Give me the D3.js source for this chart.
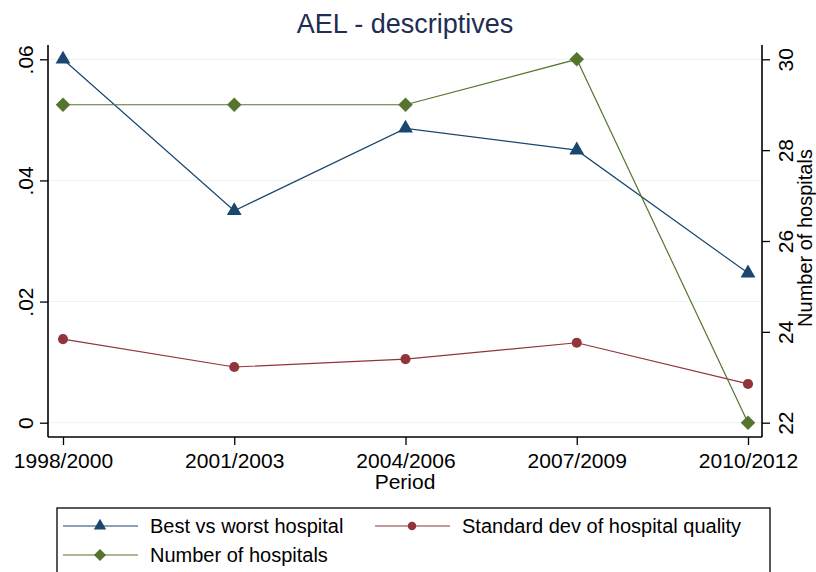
<!DOCTYPE html>
<html>
<head>
<meta charset="utf-8">
<script src="https://cdn.jsdelivr.net/npm/d3@7"></script>
<style>
  body { margin: 0; background: #fff; }
  svg { font-family: "Liberation Sans", Arial, sans-serif; }
</style>
</head>
<body>
<svg width="816" height="572"></svg>
<script>
// data
var periods = ["1998/2000", "2001/2003", "2004/2006", "2007/2009", "2010/2012"]
var bestWorst = [0.0600, 0.0350, 0.0486, 0.0450, 0.0247]
var stdDev = [0.0138, 0.0092, 0.0105, 0.0132, 0.0064]
var nHospitals = [29, 29, 29, 30, 22]
var leftTicks = [0, 0.02, 0.04, 0.06]
var leftLabels = ["0", ".02", ".04", ".06"]
var rightTicks = [22, 24, 26, 28, 30]

var svg = d3.select("svg")

var navy = "#1a476f", maroon = "#90353b", green = "#55752f"

// plot area
var x = d3.scaleLinear().domain([0, 4]).range([63, 748])
var y = d3.scaleLinear().domain([0, 0.06]).range([422.7, 59.3])
var y2 = d3.scaleLinear().domain([22, 30]).range([422.7, 59.3])
var axisLeftX = 48, axisRightX = 762, axisBottomY = 437, axisTopY = 45

// gridlines
svg.append("g").selectAll("line")
  .data(leftTicks)
  .enter().append("line")
    .attr("x1", axisLeftX).attr("x2", axisRightX)
    .attr("y1", function(d) { return y(d) }).attr("y2", function(d) { return y(d) })
    .style("stroke", "#eaf2f3").style("stroke-width", 1)

// left axis
var gl = svg.append("g").attr("transform", "translate(" + axisLeftX + ",0)")
  .call(d3.axisLeft(y).tickValues(leftTicks).tickSize(8))
gl.select(".domain").attr("d", "M0," + axisTopY + "V" + axisBottomY)
gl.selectAll("text").remove()
gl.selectAll(".tick").append("text")
  .attr("transform", "translate(-15,0) rotate(-90)")
  .attr("text-anchor", "middle")
  .attr("fill", "#000")
  .style("font-size", "21px")
  .text(function(d, i) { return leftLabels[i] })

// right axis
var gr = svg.append("g").attr("transform", "translate(" + axisRightX + ",0)")
  .call(d3.axisRight(y2).tickValues(rightTicks).tickSize(8))
gr.select(".domain").attr("d", "M0," + axisTopY + "V" + axisBottomY)
gr.selectAll("text").remove()
gr.selectAll(".tick").append("text")
  .attr("transform", "translate(31,0) rotate(-90)")
  .attr("text-anchor", "middle")
  .attr("fill", "#000")
  .style("font-size", "21px")
  .text(function(d) { return d })

// bottom axis
var gb = svg.append("g").attr("transform", "translate(0," + axisBottomY + ")")
  .call(d3.axisBottom(x).tickValues(d3.range(periods.length)).tickSize(8)
    .tickFormat(function(d) { return periods[d] }))
gb.select(".domain").attr("d", "M" + axisLeftX + ",0H" + axisRightX)
gb.selectAll("text").attr("y", 31).attr("dy", 0).attr("fill", "#000").style("font-size", "21px")

svg.selectAll(".domain").style("stroke", "#000").style("stroke-width", 1.6)
svg.selectAll(".tick line").style("stroke", "#000").style("stroke-width", 1.3)

// axis titles
svg.append("text")
  .attr("x", 405).attr("y", 489)
  .attr("text-anchor", "middle")
  .style("font-size", "21px")
  .text("Period")

svg.append("text")
  .attr("transform", "translate(812,238) rotate(-90)")
  .attr("text-anchor", "middle")
  .style("font-size", "20px")
  .text("Number of hospitals")

svg.append("text")
  .attr("x", 405).attr("y", 33)
  .attr("text-anchor", "middle")
  .style("font-size", "27px")
  .style("fill", "#1e2d53")
  .text("AEL - descriptives")

// series (diamond = square turned 45 degrees)
var series = [
  {name: "Best vs worst hospital", values: bestWorst, scale: y, color: navy, symbol: d3.symbolTriangle, size: 95, rot: 0},
  {name: "Standard dev of hospital quality", values: stdDev, scale: y, color: maroon, symbol: d3.symbolCircle, size: 80, rot: 0},
  {name: "Number of hospitals", values: nHospitals, scale: y2, color: green, symbol: d3.symbolSquare, size: 105, rot: 45}
]

var line = d3.line()

series.forEach(function(s) {
  var pts = s.values.map(function(v, i) { return [x(i), s.scale(v)] })
  svg.append("path")
    .attr("d", line(pts))
    .style("fill", "none")
    .style("stroke", s.color)
    .style("stroke-width", 1.2)
  svg.append("g").selectAll("path")
    .data(pts)
    .enter().append("path")
      .attr("transform", function(d) { return "translate(" + d[0] + "," + d[1] + ") rotate(" + s.rot + ")" })
      .attr("d", d3.symbol().type(s.symbol).size(s.size))
      .style("fill", s.color)
})

// legend
var legend = svg.append("g")
legend.append("rect")
  .attr("x", 57).attr("y", 508)
  .attr("width", 713).attr("height", 80)
  .style("fill", "#fff").style("stroke", "#000").style("stroke-width", 1.3)

var legendPos = [[63, 526], [375, 526], [63, 555]]
series.forEach(function(s, i) {
  var p = legendPos[i]
  var g = legend.append("g").attr("transform", "translate(" + p[0] + "," + p[1] + ")")
  g.append("line").attr("x1", 0).attr("x2", 75)
    .style("stroke", s.color).style("stroke-width", 1.2)
  g.append("path")
    .attr("transform", "translate(37,0) rotate(" + s.rot + ")")
    .attr("d", d3.symbol().type(s.symbol).size(s.size * 0.7))
    .style("fill", s.color)
  g.append("text")
    .attr("x", 87).attr("y", 7)
    .style("font-size", "20px")
    .text(s.name)
})
</script>
</body>
</html>
